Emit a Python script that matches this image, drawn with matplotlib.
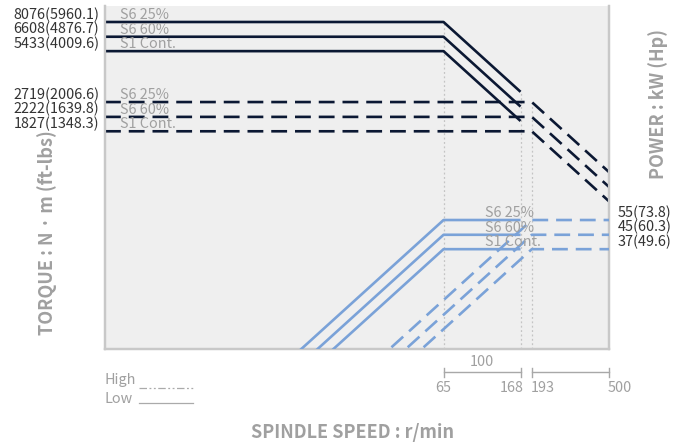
import matplotlib

matplotlib.use("Agg")
import matplotlib.pyplot as plt  # noqa: E402
import numpy as np  # noqa: E402
from matplotlib.lines import Line2D  # noqa: E402
from matplotlib.transforms import blended_transform_factory  # noqa: E402

plt.rcParams["font.family"] = ["Noto Sans CJK JP", "DejaVu Sans"]

# spindle ratings (low gear = solid, high gear = dashed)
duty = ["S6 25%", "S6 60%", "S1 Cont."]
torque_low = [8076, 6608, 5433]
torque_low_ftlb = [5960.1, 4876.7, 4009.6]
torque_high = [2719, 2222, 1827]
torque_high_ftlb = [2006.6, 1639.8, 1348.3]
power_kw = [55, 45, 37]
power_hp = [73.8, 60.3, 49.6]
low_base, low_max = 65, 168
high_base, high_max = 193, 500
speed_ticks = [65, 168, 193, 500]
bracket_label = "100"

NAVY = "#0b1833"
BLUE = "#7aa2d8"
GRAY = "#a0a0a0"
DARK = "#333333"
W, H = 686, 442


def fx(x):
    return x / W


def fy(y):
    return 1 - y / H


fig = plt.figure(figsize=(W / 100, H / 100), dpi=100)
ax = fig.add_axes([fx(105), fy(349), 504 / W, 343 / H])
ax.set_facecolor("#efefef")
ax.set_xscale("log")
ax.set_yscale("log")
ax.set_xlim(1, 500)
ax.set_ylim(94.6, 10038)
ax2 = ax.twinx()
ax2.set_yscale("log")
ax2.set_ylim(9.52, 1010)

for a in (ax, ax2):
    a.tick_params(which="both", left=False, right=False, bottom=False, top=False,
                  labelleft=False, labelright=False, labelbottom=False)
    a.minorticks_off()
    a.spines["top"].set_visible(False)
    for s in ("left", "right", "bottom"):
        a.spines[s].set_color("#c8c8c8")
        a.spines[s].set_linewidth(1.6)

dash = (0, (6, 3))
lw = 1.9

# vertical guides at the knee speeds
for n, top in [(low_base, torque_low[0]), (low_max, torque_low[0] * low_base / low_max),
               (high_base, torque_high[0])]:
    ax.vlines(n, 94.6, top, colors="#c4c4c4", linestyles=(0, (1.5, 2)), linewidth=0.9, zorder=1)

# torque curves: constant torque to base speed, then constant power
for T in torque_low:
    ax.plot([1, low_base, low_max], [T, T, T * low_base / low_max], color=NAVY, lw=lw,
            solid_capstyle="butt", zorder=3)
for T in torque_high:
    ax.plot([1, high_base, high_max], [T, T, T * high_base / high_max], color=NAVY, lw=lw,
            linestyle=dash, dash_capstyle="butt", zorder=3)

# power curves
for P in power_kw:
    ax2.plot([1, low_base, low_max], [P / low_base, P, P], color=BLUE, lw=lw,
             solid_capstyle="butt", zorder=3)
    ax2.plot([1, high_base, high_max], [P / high_base, P, P], color=BLUE, lw=lw,
             linestyle=dash, dash_capstyle="butt", zorder=3)

tr_l = blended_transform_factory(ax.transAxes, ax.transData)
tr_r = blended_transform_factory(ax2.transAxes, ax2.transData)
fs = 10.4

for T, f, d in zip(torque_low + torque_high, torque_low_ftlb + torque_high_ftlb, duty + duty):
    ax.annotate(f"{T}({f})", xy=(0, T), xycoords=tr_l, xytext=(-4, 5.4),
                textcoords="offset points", ha="right", va="center", fontsize=fs,
                color=DARK, annotation_clip=False)
    ax.annotate(d, xy=(0.03, T), xycoords=tr_l, xytext=(0, 5.0),
                textcoords="offset points", ha="left", va="center", fontsize=fs,
                color=GRAY, zorder=5)

for P, hp, d in zip(power_kw, power_hp, duty):
    ax2.annotate(f"{P}({hp})", xy=(1, P), xycoords=tr_r, xytext=(6.5, 5.4),
                 textcoords="offset points", ha="left", va="center", fontsize=fs,
                 color=DARK, annotation_clip=False)
    ax2.annotate(d, xy=(0.754, P), xycoords=tr_r, xytext=(0, 5.2),
                 textcoords="offset points", ha="left", va="center", fontsize=fs,
                 color=GRAY, zorder=5)

# speed brackets under the plot
trx = ax.get_xaxis_transform()
yb = -23 / 343
for a, b in [(low_base, low_max), (high_base, high_max)]:
    ax.plot([a, b], [yb, yb], transform=trx, color="#a8a8a8", lw=1, clip_on=False)
    for n in (a, b):
        ax.plot([n, n], [yb + 4.5 / 343, yb - 4.5 / 343], transform=trx, color="#a8a8a8",
                lw=1, clip_on=False)
ax.text(np.sqrt(low_base * low_max), -13 / 343, bracket_label, transform=trx,
        ha="center", va="center", fontsize=fs, color=GRAY)
tick_ha = ["center", "right", "left", "left"]
tick_dx = [1.0, 1.04, 0.985, 0.985]
for n, ha, k in zip(speed_ticks, tick_ha, tick_dx):
    ax.text(n * k, -39 / 343, str(n), transform=trx, ha=ha, va="center",
            fontsize=fs, color=GRAY)

# legend (high = dashed, low = solid)
fig.text(fx(104), fy(380), "High", ha="left", va="center", fontsize=fs, color=GRAY)
fig.text(fx(104), fy(399), "Low", ha="left", va="center", fontsize=fs, color=GRAY)
fig.add_artist(Line2D([fx(139), fx(193)], [fy(388), fy(388)], transform=fig.transFigure,
                      color="#aaaaaa", lw=0.9, linestyle=(0, (6, 2, 1.5, 2, 1.5, 2))))
fig.add_artist(Line2D([fx(139), fx(193)], [fy(403), fy(403)], transform=fig.transFigure,
                      color="#aaaaaa", lw=0.9))

# axis titles
fig.text(fx(47), fy(233), "TORQUE : N · m (ft-lbs)", rotation=90, ha="center", va="center",
         fontsize=13, fontweight="bold", color=GRAY)
fig.text(fx(658), fy(104), "POWER : kW (Hp)", rotation=90, ha="center", va="center",
         fontsize=13, fontweight="bold", color=GRAY)
fig.text(fx(353), fy(432), "SPINDLE SPEED : r/min", ha="center", va="center",
         fontsize=13, fontweight="bold", color=GRAY)

fig.savefig("out.png", dpi=100)
plt.close(fig)
